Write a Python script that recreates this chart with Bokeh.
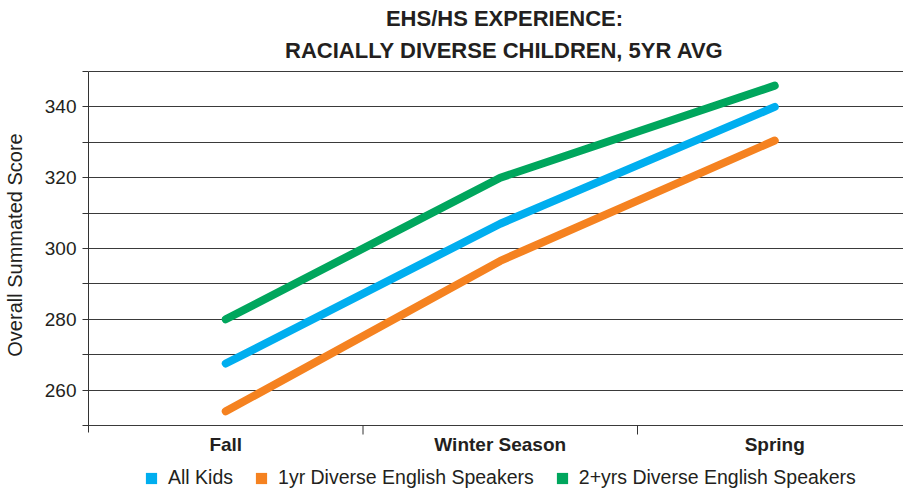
from bokeh.plotting import figure
from bokeh.models import FixedTicker, Range1d, Legend, LegendItem
from bokeh.core.properties import value
from bokeh.embed import file_html
from bokeh.resources import INLINE

# ---- data ----
seasons = ["Fall", "Winter Season", "Spring"]
all_kids = [267.5, 307, 340]
one_yr = [254, 296.5, 330.5]
two_plus = [280, 320, 346]
series_names = ["All Kids", "1yr Diverse English Speakers", "2+yrs Diverse English Speakers"]
series_values = [all_kids, one_yr, two_plus]
colors = ["#00AEEF", "#F58220", "#00A65D"]
y_ticks = [260, 280, 300, 320, 340]
y_min, y_max, y_step = 250, 350, 10
title_lines = ["EHS/HS EXPERIENCE:", "RACIALLY DIVERSE CHILDREN, 5YR AVG"]

FONT = "Liberation Sans"
TXT = "#231f20"
NAN = float("nan")

# ---- geometry (pixels) ----
W, H = 903, 489
left_px = 88          # frame left
axis_top_px = 71      # pixel row of y_max
axis_bot_px = 425     # pixel row of y_min
unit_px = 274.5       # pixels per category
ppy = (axis_bot_px - axis_top_px) / (y_max - y_min)   # pixels per y unit

x_pos = [i + 0.5 for i in range(len(seasons))]
x_end = (W - left_px) / unit_px
y_lo = y_min - (H - axis_bot_px) / ppy
y_hi = y_max + axis_top_px / ppy

p = figure(width=W, height=H, output_backend="svg", toolbar_location=None,
           x_range=Range1d(0, x_end), y_range=Range1d(y_lo, y_hi),
           x_axis_location=None,
           min_border_left=left_px, min_border_right=0, min_border_top=0, min_border_bottom=0)
p.outline_line_color = None
p.background_fill_color = "white"
p.border_fill_color = "white"

# grid (the line at y_min doubles as the x axis line)
p.xgrid.visible = False
p.ygrid.ticker = FixedTicker(ticks=list(range(y_min, y_max + 1, y_step)))
p.ygrid.grid_line_color = "#3a3a3a"
p.ygrid.grid_line_width = 1

# y axis
ya = p.yaxis[0]
ya.bounds = (y_min - 7 / ppy, y_max)
ya.ticker = FixedTicker(ticks=y_ticks, minor_ticks=list(range(y_min, y_max + 1, y_step)))
ya.axis_line_color = "#333333"
ya.major_tick_line_color = "#333333"
ya.minor_tick_line_color = "#333333"
ya.major_tick_out = 4
ya.major_tick_in = 0
ya.minor_tick_out = 6
ya.minor_tick_in = 0
ya.major_label_standoff = 6
ya.major_label_text_font = FONT
ya.major_label_text_font_size = "19px"
ya.major_label_text_color = TXT
ya.axis_label = "Overall Summated Score"
ya.axis_label_text_font = FONT
ya.axis_label_text_font_size = "20px"
ya.axis_label_text_font_style = "normal"
ya.axis_label_text_color = TXT
ya.axis_label_standoff = 16

# category boundary ticks on the x axis
bounds_x = list(range(1, len(seasons) + 1))
p.segment(x0=bounds_x, y0=[y_min] * len(bounds_x), x1=bounds_x,
          y1=[y_min - 9 / ppy] * len(bounds_x), line_color="#333333", line_width=1)

# category labels
p.text(x=x_pos, y=[y_min - 19 / ppy] * len(seasons), text=seasons,
       text_align="center", text_baseline="middle",
       text_font=value(FONT), text_font_size="19px", text_font_style="bold",
       text_color=TXT)

# lines
items = []
for name, vals, c in zip(series_names, series_values, colors):
    p.line(x_pos, vals, line_width=8, line_color=c, line_cap="round", line_join="round")
    q = p.quad(left=[NAN], right=[NAN], top=[NAN], bottom=[NAN], fill_color=c, line_color=None)
    items.append(LegendItem(label=name, renderers=[q]))

legend = Legend(items=items, orientation="horizontal", location=(56, 0),
                glyph_width=14, glyph_height=14, label_standoff=10, spacing=21,
                padding=0, margin=0, border_line_color=None, background_fill_alpha=0,
                label_text_font=FONT, label_text_font_size="19.5px", label_text_color=TXT)
p.add_layout(legend, "center")

# title (two centered lines)
title_x = (504 - left_px) / unit_px
p.text(x=[title_x, title_x], y=[y_max + (axis_top_px - 18) / ppy, y_max + (axis_top_px - 50) / ppy],
       text=title_lines, text_align="center", text_baseline="middle",
       text_font=value(FONT), text_font_size="22px", text_font_style="bold",
       text_color=TXT)

open("out.html", "w").write(file_html(p, INLINE))
